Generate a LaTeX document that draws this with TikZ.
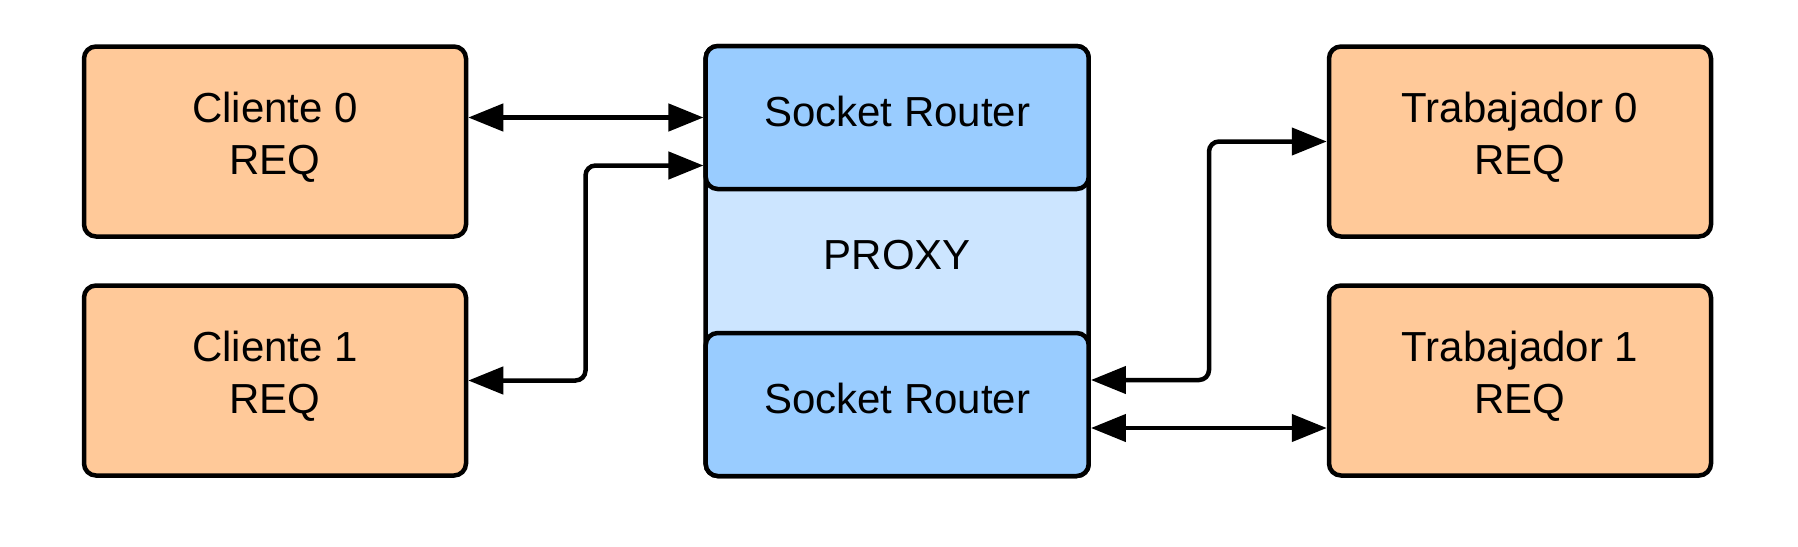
\documentclass[tikz,border=0pt]{standalone}
\usepackage{fontspec}
\setmainfont{Liberation Sans}
\usetikzlibrary{arrows.meta}
\definecolor{boxorange}{HTML}{FFC999}
\definecolor{sockblue}{HTML}{99CCFF}
\definecolor{proxyblue}{HTML}{CCE5FF}
\tikzset{
  box/.style={draw=black, line width=4.5pt, rounded corners=12pt, rectangle, inner sep=0pt, minimum width=382pt},
  orangebox/.style={box, fill=boxorange, minimum height=190pt},
  sockbox/.style={box, fill=sockblue, minimum width=383pt, minimum height=143pt},
  lbl/.style={font=\fontsize{42}{52}\selectfont, align=center, anchor=north, inner sep=0pt},
  conn/.style={draw=black, line width=4.5pt, rounded corners=10pt,
    {Triangle[length=35pt,width=27pt]}-{Triangle[length=35pt,width=27pt]}}
}
\begin{document}
\begin{tikzpicture}[x=1pt,y=-1pt]
\useasboundingbox (0,0) rectangle (1798,546);
% boxes
\node[orangebox] (c0) at (275,141.5) {};
\node[orangebox] (c1) at (275,380.5) {};
\node[box, fill=proxyblue, minimum width=383pt, minimum height=430pt] (px) at (897.2,261) {};
\node[sockbox] (sr0) at (897.2,117.5) {};
\node[sockbox] (sr1) at (897.2,404.5) {};
\node[orangebox] (t0) at (1520,141.5) {};
\node[orangebox] (t1) at (1520,380.5) {};
% labels
\node[lbl] (c0t) at (275,92) {Cliente 0\\REQ};
\node[lbl] (c1t) at (275,331) {Cliente 1\\REQ};
\node[lbl] (sr0t) at (897.2,95.5) {Socket Router};
\node[lbl] (pxt) at (897.2,240) {PROXY};
\node[lbl] (sr1t) at (897.2,383) {Socket Router};
\node[lbl] (t0t) at (1520,92) {Trabajador 0\\REQ};
\node[lbl] (t1t) at (1520,331) {Trabajador 1\\REQ};
% routing coordinates
\coordinate (m1) at (585.5,0);
\coordinate (m2) at (1209,0);
% connectors
\draw[conn] (c0.east |- sr0.west) -- (sr0.west);
\draw[conn] ([yshift=-48pt]sr0.west) -| (m1 |- c1.east) -- (c1.east);
\draw[conn] ([yshift=24.5pt]sr1.east) -| (m2 |- t0.west) -- (t0.west);
\draw[conn] ([yshift=-23.5pt]sr1.east) -- ([yshift=-23.5pt]sr1.east -| t1.west);
\end{tikzpicture}
\end{document}
